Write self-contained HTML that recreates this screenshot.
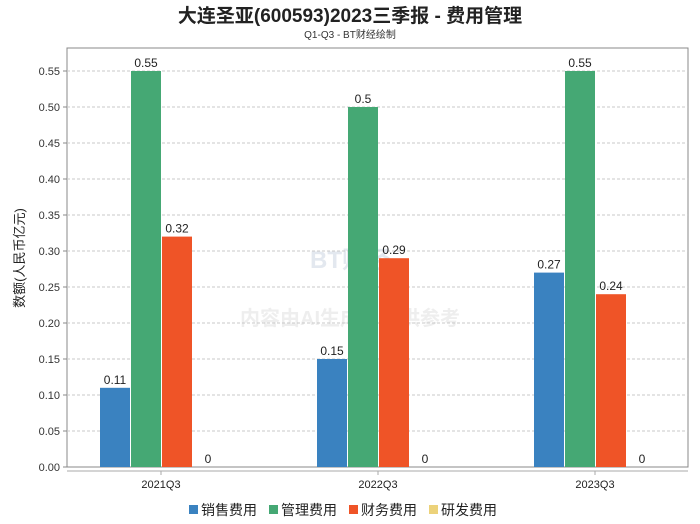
<!DOCTYPE html>
<html><head><meta charset="utf-8"><style>
html,body{margin:0;padding:0;background:#fff;}
svg{display:block;font-family:"Liberation Sans","Noto Sans CJK SC",sans-serif;}
</style></head><body>
<svg id="chart" width="700" height="524" viewBox="0 0 700 524">
<text x="350" y="22" text-anchor="middle" font-size="19" font-weight="bold" fill="#222">大连圣亚(600593)2023三季报 - 费用管理</text>
<text x="350" y="38" text-anchor="middle" font-size="10" fill="#333">Q1-Q3 - BT财经绘制</text>
<text x="350" y="268" text-anchor="middle" font-size="24" font-weight="bold" fill="#e3e8ef">BT财经</text>
<text x="350" y="325" text-anchor="middle" font-size="20" font-weight="bold" fill="#eeeeee">内容由AI生成，仅供参考</text>
<text transform="translate(24,258) rotate(-90)" text-anchor="middle" font-size="13" fill="#222">数额(人民币亿元)</text>
<rect x="67" y="48" width="621" height="419" fill="none" stroke="#888"/>
<line x1="67" y1="471" x2="688" y2="471" stroke="#aaa"/>
<g id="grid"></g><g id="bars"></g><g id="labels"></g>
<g id="legend"></g>
</svg>
<script>
const categories = ["2021Q3","2022Q3","2023Q3"];
const seriesNames = ["销售费用","管理费用","财务费用","研发费用"];
const seriesColors = ["#3a82c0","#45a874","#ef5427","#ecd27a"];
const sales = [0.11,0.15,0.27];
const admin = [0.55,0.5,0.55];
const finance = [0.32,0.29,0.24];
const rnd = [0,0,0];
const yTicks = [0,0.05,0.1,0.15,0.2,0.25,0.3,0.35,0.4,0.45,0.5,0.55];
const series = [sales,admin,finance,rnd];
const NS="http://www.w3.org/2000/svg";
const y0=467, pxPerUnit=720, left=67, groupW=217, barW=30;
function yS(v){return y0 - v*pxPerUnit;}
function xG(i){return left + 94 + i*groupW;}
function mk(tag,attrs,parent,text){const e=document.createElementNS(NS,tag);for(const k in attrs)e.setAttribute(k,attrs[k]);if(text!==undefined)e.textContent=text;parent.appendChild(e);return e;}
const grid=document.getElementById('grid'),bars=document.getElementById('bars'),labels=document.getElementById('labels'),legend=document.getElementById('legend');
yTicks.forEach(t=>{
  const y=yS(t);
  if(t>0){const l=mk('line',{x1:67,x2:688,y1:y,y2:y,stroke:'#c8c8c8','stroke-dasharray':'3,2'},grid);
  
  }
  mk('line',{x1:63,x2:67,y1:y,y2:y,stroke:'#888'},grid);
  const tx=mk('text',{x:60,y:y+4,'text-anchor':'end','font-size':11,fill:'#333'},grid,t.toFixed(2));
  
  
});
categories.forEach((c,i)=>{
  const cx=xG(i);
  const t=mk('text',{x:cx,y:488,'text-anchor':'middle','font-size':11,fill:'#222'},labels,c);
  
  
  mk('line',{x1:cx,x2:cx,y1:471,y2:475,stroke:'#aaa'},labels);
  series.forEach((s,j)=>{
    const v=s[i], x=cx-61+j*31;
    const r=mk('rect',{x:x,y:yS(v),width:barW,height:v*pxPerUnit,fill:seriesColors[j]},bars);
    
    
    const lb=mk('text',{x:x+barW/2,y:yS(v)-4,'text-anchor':'middle','font-size':12,fill:'#222'},labels,String(v));
    
    
  });
});
let lx=189;
seriesNames.forEach((n,j)=>{
  const g=mk('g',{},legend);
  
  
  mk('rect',{x:lx,y:505,width:9,height:9,fill:seriesColors[j]},g);
  mk('text',{x:lx+12,y:515,'font-size':14,fill:'#222'},g,n);
  lx+=80;
});
</script>
</body></html>
